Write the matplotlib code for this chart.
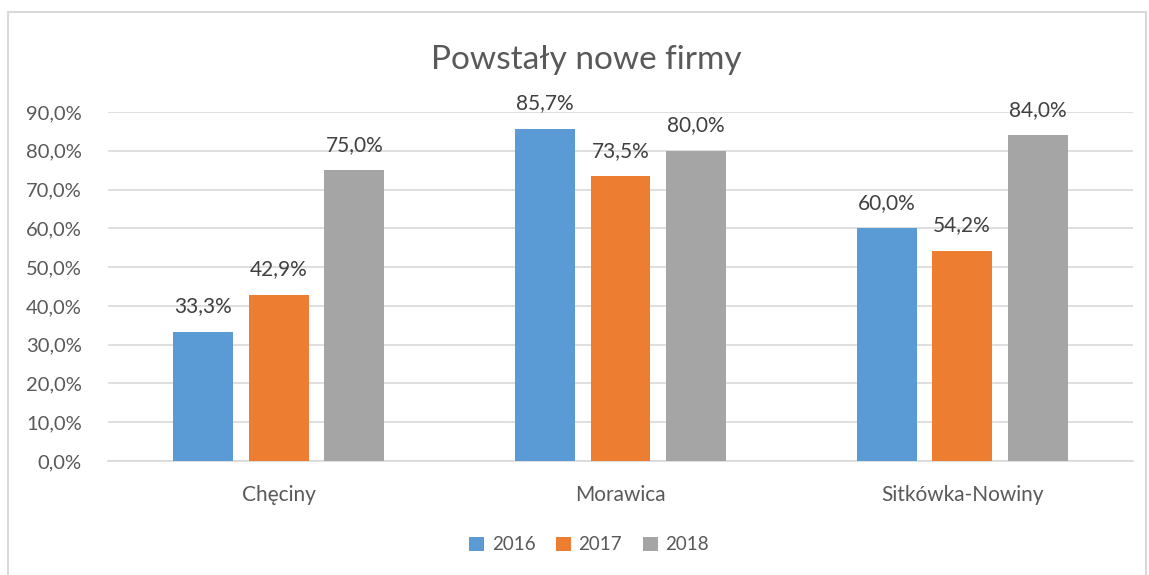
import matplotlib
matplotlib.use("Agg")
import matplotlib.pyplot as plt
from matplotlib.patches import Rectangle
import numpy as np

categories = ["Chęciny", "Morawica", "Sitkówka-Nowiny"]
series_names = ["2016", "2017", "2018"]
v2016 = [33.3, 85.7, 60.0]
v2017 = [42.9, 73.5, 54.2]
v2018 = [75.0, 80.0, 84.0]
values = [v2016, v2017, v2018]
colors = ["#5b9bd5", "#ed7d31", "#a5a5a5"]
yticks = [0, 10, 20, 30, 40, 50, 60, 70, 80, 90]

plt.rcParams['font.family'] = ['Lato', 'DejaVu Sans']
txt = "#595959"

fig = plt.figure(figsize=(11.49, 5.75), dpi=100)
fig.patches.append(Rectangle((8/1149, -0.05), (1146-8)/1149, 1 - 12/575 + 0.05,
                             transform=fig.transFigure, fill=False,
                             edgecolor="#d9d9d9", linewidth=1.5))
ax = fig.add_axes([108/1149, 1 - 461/575, (1133-108)/1149, (461-112)/575])

x = np.arange(len(categories))
w = 0.175
off = 0.221
for i, (name, vals, c) in enumerate(zip(series_names, values, colors)):
    pos = x + (i - 1) * off
    bars = ax.bar(pos, vals, width=w, color=c, label=name, zorder=3)
    for b, v in zip(bars, vals):
        ax.annotate(f"{v:.1f}%".replace(".", ","), (b.get_x() + b.get_width()/2, v),
                    xytext=(0, 11), textcoords="offset points", ha="center", va="bottom",
                    fontsize=15, color="#404040")

ax.set_xlim(-0.5, 2.5)
ax.set_ylim(0, 90)
ax.set_yticks(yticks)
ax.set_yticklabels([f"{t:.1f}%".replace(".", ",") for t in yticks], fontsize=14.5, color=txt)
ax.set_xticks(x)
ax.set_xticklabels(categories, fontsize=15, color=txt)
ax.tick_params(axis="both", length=0)
ax.tick_params(axis="x", pad=17)
ax.tick_params(axis="y", pad=19)
ax.grid(axis="y", color="#d9d9d9", linewidth=1.2, zorder=0)
for s in ["top", "right", "left"]:
    ax.spines[s].set_visible(False)
ax.spines["bottom"].set_color("#d9d9d9")
ax.spines["bottom"].set_linewidth(1.2)

fig.text(586/1149, 1 - 60/575, "Powstały nowe firmy", ha="center", va="center",
         fontsize=24, color=txt)
leg = fig.legend(loc="center", bbox_to_anchor=(589/1149, 1 - 545/575), ncol=3,
                 frameon=False, fontsize=13.5, handlelength=0.8, handleheight=0.8,
                 handletextpad=0.4, columnspacing=1.1)
for t in leg.get_texts():
    t.set_color(txt)

fig.savefig("out.png", dpi=100)
